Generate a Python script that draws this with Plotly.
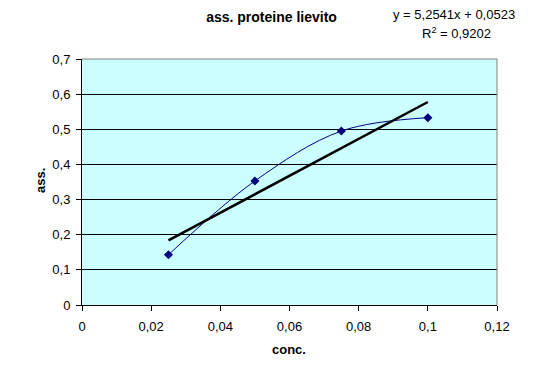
import plotly.graph_objects as go

conc = [0.025, 0.05, 0.075, 0.1]
ass = [0.143, 0.353, 0.495, 0.533]
slope = 5.2541
intercept = 0.0523
r2 = 0.9202
trend_x = [min(conc), max(conc)]
trend_y = [slope * x + intercept for x in trend_x]

FONT = "Liberation Sans, Arial, sans-serif"

# page body has an 8px margin; figure sized to fit the 540x365 window
W, H = 532, 357
OFF = 8
PL, PR, PT, PB = 82, 497, 59, 305  # plot area in window pixels
PW, PH = PR - PL, PB - PT

def px(xw):
    return (xw - PL) / PW

def py(yw):
    return (PB - yw) / PH

fig = go.Figure()
fig.add_trace(go.Scatter(
    x=conc, y=ass, mode="lines+markers",
    line=dict(color="#000080", width=1, shape="spline", smoothing=1.0),
    marker=dict(symbol="diamond", size=7, color="#000080"),
    showlegend=False, hoverinfo="skip"))
fig.add_trace(go.Scatter(
    x=trend_x, y=trend_y, mode="lines",
    line=dict(color="black", width=2.5),
    showlegend=False, hoverinfo="skip"))

eq1 = "y = " + f"{slope:.4f}".replace(".", ",") + "x + " + f"{intercept:.4f}".replace(".", ",")
eq2 = "R<sup>2</sup> = " + f"{r2:.4f}".replace(".", ",")

fig.update_layout(
    width=W, height=H,
    margin=dict(l=PL - OFF, r=W - (PR - OFF), t=PT - OFF, b=H - (PB - OFF), autoexpand=False),
    paper_bgcolor="white", plot_bgcolor="#CCFFFF",
    separators=",.",
    font=dict(family=FONT, size=13, color="black"),
    title=dict(text="<b>ass. proteine lievito</b>", x=(271.5 - OFF) / W, xanchor="center",
               y=1 - (17 - OFF) / H, yanchor="middle", font=dict(size=14)),
    xaxis=dict(range=[0, 0.12], dtick=0.02, tick0=0, showgrid=False, zeroline=False,
               showline=True, linecolor="black", linewidth=1,
               ticks="outside", ticklen=5, tickcolor="black", ticklabelstandoff=4),
    yaxis=dict(range=[0, 0.7], dtick=0.1, tick0=0, showgrid=True, gridcolor="black",
               gridwidth=1, zeroline=False, showline=True, linecolor="black", linewidth=1,
               ticks="outside", ticklen=5, tickcolor="black", ticklabelstandoff=3),
    shapes=[
        dict(type="line", xref="x domain", yref="y domain", x0=0, x1=1, y0=1, y1=1,
             line=dict(color="#808080", width=1), layer="above"),
        dict(type="line", xref="x domain", yref="y domain", x0=1, x1=1, y0=0, y1=1,
             line=dict(color="#808080", width=1), layer="above"),
    ],
    annotations=[
        dict(text=eq1, xref="paper", yref="paper", x=px(453.5), y=py(15),
             showarrow=False, xanchor="center", yanchor="middle", font=dict(size=13)),
        dict(text=eq2, xref="paper", yref="paper", x=px(456), y=py(33),
             showarrow=False, xanchor="center", yanchor="middle", font=dict(size=13)),
        dict(text="<b>conc.</b>", xref="paper", yref="paper", x=px(289),
             y=py(349), showarrow=False, xanchor="center", yanchor="middle",
             font=dict(size=13)),
        dict(text="<b>ass.</b>", xref="paper", yref="paper", x=px(40),
             y=py(181), showarrow=False, xanchor="center", yanchor="middle",
             textangle=-90, font=dict(size=13)),
    ],
)

fig.write_html("out.html")
